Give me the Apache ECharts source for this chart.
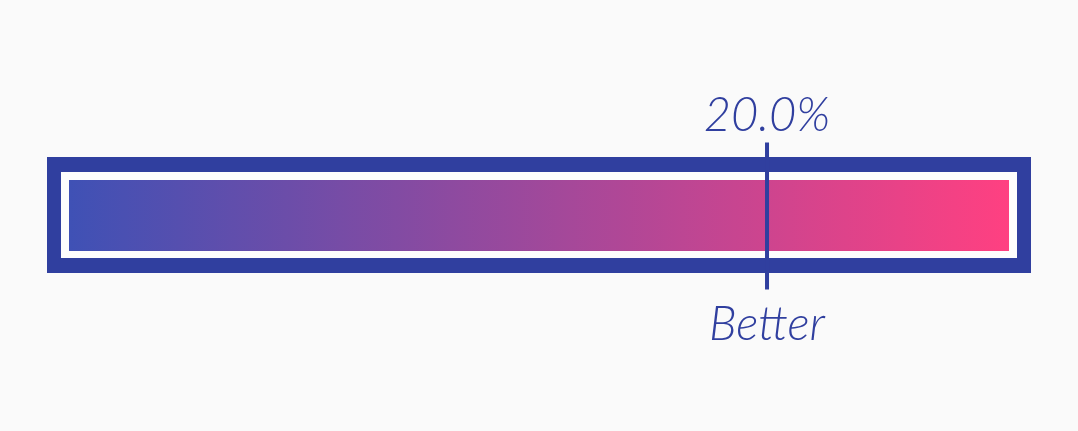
<!DOCTYPE html>
<html>
<head>
<meta charset="utf-8">
<script src="https://cdn.jsdelivr.net/npm/echarts@6/dist/echarts.min.js"></script>
<style>
  html, body { margin: 0; padding: 0; background: #fafafa; }
  #chart { width: 1078px; height: 431px; }
</style>
</head>
<body>
<div id="chart"></div>
<script>
// scale of the track and the single reading on it
var scaleRange = [-55, 46];
var markerValue = [20.0];
var markerLabel = ['Better'];

var frameColor = '#303f9f';
var startColor = '#3f51b5';
var endColor = '#ff4081';

var mychart = echarts.init(document.getElementById('chart'));

function renderTrack(params, api) {
    var p0 = api.coord([api.value(0), 0]);
    var p1 = api.coord([api.value(1), 1]);
    var x = p0[0], y = p1[1], w = p1[0] - p0[0], h = p0[1] - p1[1];
    return {
        type: 'group',
        children: [
            {
                type: 'rect',
                shape: { x: x - 22, y: y - 23, width: w + 44, height: h + 45 },
                style: { fill: frameColor }
            },
            {
                type: 'rect',
                shape: { x: x - 8, y: y - 8, width: w + 16, height: h + 15 },
                style: { fill: '#fdfdfd' }
            },
            {
                type: 'rect',
                shape: { x: x, y: y, width: w, height: h },
                style: {
                    fill: new echarts.graphic.LinearGradient(0, 0, 1, 0, [
                        { offset: 0, color: startColor },
                        { offset: 1, color: endColor }
                    ])
                }
            }
        ]
    };
}

function renderMarker(params, api) {
    var c = api.coord([api.value(0), 0.5]);
    return {
        type: 'group',
        children: [
            {
                type: 'rect',
                shape: { x: c[0] - 2, y: c[1] - 73, width: 4, height: 147 },
                style: { fill: frameColor }
            },
            {
                type: 'text',
                x: c[0],
                y: c[1] - 76,
                style: {
                    text: api.value(0).toFixed(1) + '%',
                    fill: frameColor,
                    font: 'italic 300 47px Lato',
                    align: 'center',
                    verticalAlign: 'bottom'
                }
            },
            {
                type: 'text',
                x: c[0],
                y: c[1] + 86,
                style: {
                    text: markerLabel[params.dataIndex],
                    fill: frameColor,
                    font: 'italic 300 47px Lato',
                    align: 'center',
                    verticalAlign: 'top'
                }
            }
        ]
    };
}

mychart.setOption({
    animation: false,
    backgroundColor: '#fafafa',
    grid: { left: 69, right: 69, top: 180, height: 71 },
    xAxis: {
        type: 'value',
        min: scaleRange[0],
        max: scaleRange[1],
        show: false
    },
    yAxis: {
        type: 'value',
        min: 0,
        max: 1,
        show: false
    },
    series: [
        {
            name: 'track',
            type: 'custom',
            renderItem: renderTrack,
            data: [[scaleRange[0], scaleRange[1]]]
        },
        {
            name: 'marker',
            type: 'custom',
            renderItem: renderMarker,
            data: markerValue.map(function (v) { return [v]; }),
            z: 3
        }
    ]
});
</script>
</body>
</html>
